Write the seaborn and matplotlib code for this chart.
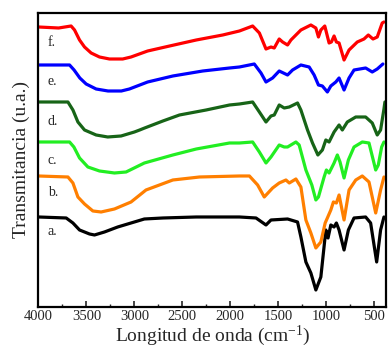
import pandas as pd
import seaborn as sns
import matplotlib.pyplot as plt
from matplotlib.ticker import MultipleLocator

# wavenumbers (cm-1) and stacked transmittance (arbitrary units)
wn_a = [4000, 3711, 3641, 3572, 3468, 3416, 3312, 3174, 3035, 2896, 2703, 2355, 2008, 1905, 1732, 1628, 1576, 1403,
        1299, 1264, 1212, 1160, 1108, 1056, 1004, 981, 952, 918, 894, 866, 814, 769, 710, 589, 537, 474, 433, 398]
t_a = [90, 89, 84, 77, 73, 72, 75, 80, 84, 88, 89, 90, 90, 90, 89, 82, 87, 88,
       85, 70, 45, 34, 17, 30, 77, 69, 82, 80, 84, 77, 57, 77, 89, 90, 84, 45, 77, 90]

wn_b = [4000, 3693, 3641, 3589, 3520, 3433, 3347, 3208, 3035, 2879, 2599, 2321, 1905, 1801, 1715, 1646, 1559, 1490,
        1420, 1385, 1316, 1264, 1212, 1160, 1108, 1056, 1011, 988, 952, 925, 894, 866, 814, 762, 692, 624, 554,
        484, 433, 398]
t_b = [131, 130, 124, 110, 103, 96, 95, 98, 105, 117, 127, 130, 131, 131, 122, 110, 119, 124,
       127, 124, 128, 120, 87, 74, 59, 65, 84, 89, 97, 105, 104, 112, 87, 117, 127, 131, 125,
       94, 117, 130]

wn_c = [4000, 3676, 3631, 3572, 3485, 3364, 3208, 3087, 2896, 2599, 2355, 2008, 1905, 1767, 1697, 1628, 1576, 1490,
        1438, 1403, 1316, 1282, 1212, 1150, 1108, 1081, 1022, 998, 970, 918, 884, 856, 814, 769, 710, 624, 554,
        484, 457, 422, 398]
t_c = [165, 165, 160, 149, 140, 136, 134, 135, 144, 152, 158, 164, 164, 165, 155, 144, 150, 162,
       160, 160, 165, 162, 137, 122, 107, 110, 130, 137, 134, 144, 152, 145, 129, 147, 160, 165, 164,
       137, 142, 160, 165]

wn_d = [4000, 3693, 3641, 3589, 3520, 3399, 3278, 3139, 3000, 2945, 2893, 2703, 2530, 2252, 2008, 1905, 1767,
        1697, 1628, 1576, 1542, 1490, 1438, 1385, 1299, 1264, 1195, 1143, 1087, 1040, 1004, 970, 918, 866, 832,
        780, 692, 589, 520, 468, 433, 398, 388]
t_d = [205, 205, 197, 185, 177, 172, 170, 171, 175, 177, 179, 186, 192, 197, 202, 203, 205,
       195, 185, 191, 192, 202, 199, 200, 204, 197, 177, 164, 152, 157, 167, 165, 175, 182, 177,
       185, 190, 190, 184, 172, 177, 198, 205]

wn_e = [4000, 3676, 3629, 3569, 3503, 3399, 3275, 3136, 3052, 2862, 2599, 2287, 2008, 1905, 1750, 1680, 1628,
        1559, 1490, 1403, 1351, 1264, 1178, 1126, 1081, 1040, 988, 952, 900, 866, 814, 762, 710, 589, 520,
        468, 409]
t_e = [242, 242, 237, 229, 223, 218, 216, 216, 218, 225, 231, 236, 239, 240, 243, 234, 225,
       229, 236, 232, 237, 242, 240, 232, 222, 221, 215, 221, 225, 229, 217, 229, 237, 239, 235,
       238, 243]

wn_f = [4000, 3790, 3660, 3624, 3572, 3520, 3451, 3364, 3260, 3122, 3035, 2862, 2633, 2355, 2079, 1905, 1767,
        1697, 1628, 1576, 1542, 1490, 1455, 1403, 1368, 1264, 1160, 1108, 1081, 1056, 1015, 970, 946, 918, 894,
        866, 814, 762, 676, 606, 561, 512, 468, 416, 398]
t_f = [280, 279, 281, 277, 267, 260, 254, 250, 248, 248, 250, 256, 261, 267, 272, 276, 281,
       274, 258, 260, 259, 268, 265, 262, 267, 277, 282, 279, 270, 277, 281, 264, 265, 271, 265,
       264, 247, 257, 265, 268, 272, 268, 270, 284, 285]

labels = ['a.', 'b.', 'c.', 'd.', 'e.', 'f.']
label_y = [75, 114, 146, 185, 225, 264]
colors = ['#000000', '#FF7F00', '#22EE22', '#176417', '#0000FF', '#FF0000']
series = [(wn_a, t_a), (wn_b, t_b), (wn_c, t_c), (wn_d, t_d), (wn_e, t_e), (wn_f, t_f)]

sns.set_style("ticks")
plt.rcParams['font.family'] = ['Liberation Serif', 'DejaVu Serif']
plt.rcParams['mathtext.default'] = 'regular'

fig = plt.figure(figsize=(3.88, 3.58), dpi=100)
ax = fig.add_axes([0.0992, 0.1425, 0.8968, 0.8212])

for (wn, t), col in zip(series, colors):
    df = pd.DataFrame({'wn': wn, 't': t})
    sns.lineplot(data=df, x='wn', y='t', color=col, linewidth=2.3, ax=ax, sort=False,
                 solid_joinstyle='round', solid_capstyle='round')

for lab, ly in zip(labels, label_y):
    ax.text(3905, ly, lab, fontsize=10, ha='left', va='center')

ax.set_xlim(4000, 372)
ax.set_ylim(0, 294)
ax.xaxis.set_major_locator(MultipleLocator(500))
ax.xaxis.set_minor_locator(MultipleLocator(250))
ax.set_yticks([])
ax.tick_params(axis='x', which='major', direction='in', length=4, width=1.2, labelsize=10.5, pad=2)
ax.tick_params(axis='x', which='minor', direction='in', length=2.5, width=1.0)
for sp in ax.spines.values():
    sp.set_linewidth(1.6)
    sp.set_color('black')

ax.set_xlabel('Longitud de onda (cm$^{-1}$)', fontsize=14, labelpad=1)
ax.set_ylabel('Transmitancia (u.a.)', fontsize=14, labelpad=6)

fig.savefig('out.png', dpi=100)
